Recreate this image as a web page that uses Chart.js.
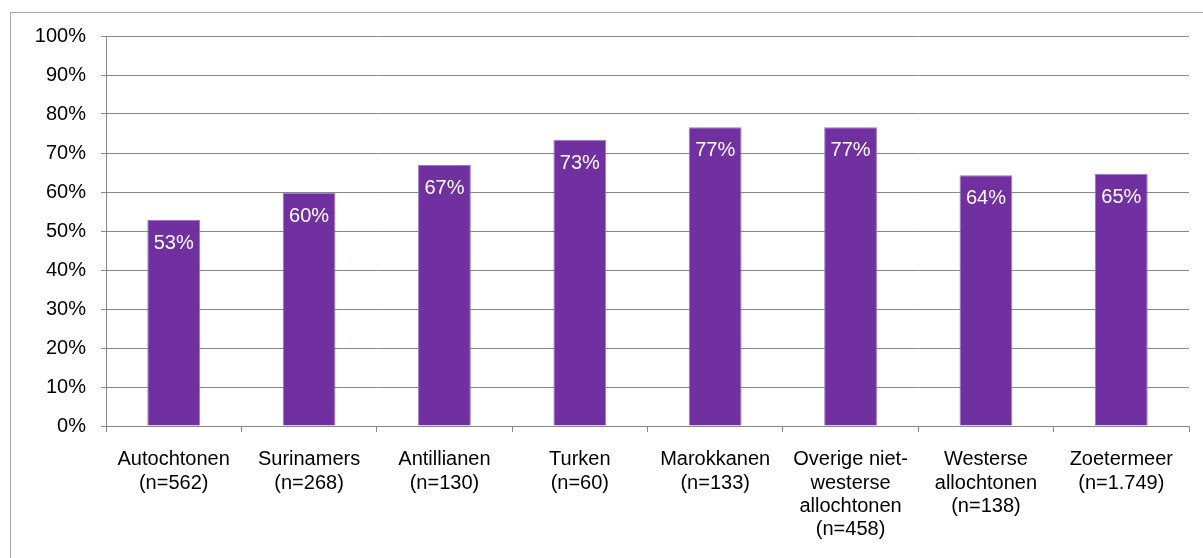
<!DOCTYPE html>
<html>
<head>
<meta charset="utf-8">
<script src="https://cdn.jsdelivr.net/npm/chart.js@4"></script>
<style>
  html, body { margin: 0; padding: 0; background: #fff; overflow: hidden; }
  #wrap { position: relative; width: 1203px; height: 558px; }
  #frame { position: absolute; left: 10px; top: 12px; width: 1300px; height: 700px; border: 1px solid #a6a6a6; box-sizing: border-box; }
  canvas { position: absolute; left: 0; top: 0; }
</style>
</head>
<body>
<div id="wrap">
  <div id="frame"></div>
  <canvas id="myChart" width="1203" height="558"></canvas>
</div>
<script>
var categories = [
  ['Autochtonen', '(n=562)'],
  ['Surinamers', '(n=268)'],
  ['Antillianen', '(n=130)'],
  ['Turken', '(n=60)'],
  ['Marokkanen', '(n=133)'],
  ['Overige niet-', 'westerse', 'allochtonen', '(n=458)'],
  ['Westerse', 'allochtonen', '(n=138)'],
  ['Zoetermeer', '(n=1.749)']
];
var percentages = [52.8, 59.8, 66.9, 73.4, 76.6, 76.6, 64.3, 64.7];
var yTicks = [0, 10, 20, 30, 40, 50, 60, 70, 80, 90, 100];

var gridGray = '#888888';
var font = 'Liberation Sans, Arial, sans-serif';

// white percentage labels inside the top of each bar
var barLabels = {
  id: 'barLabels',
  afterDatasetsDraw: function (chart) {
    var ctx = chart.ctx;
    var meta = chart.getDatasetMeta(0);
    ctx.save();
    ctx.fillStyle = '#ffffff';
    ctx.font = '20px ' + font;
    ctx.textAlign = 'center';
    ctx.textBaseline = 'alphabetic';
    meta.data.forEach(function (bar, i) {
      ctx.fillText(Math.round(percentages[i]) + '%', bar.x, bar.y + 29);
    });
    ctx.restore();
  }
};

document.addEventListener('DOMContentLoaded', function () {
  var ctx = document.getElementById('myChart').getContext('2d');
  var myChart = new Chart(ctx, {
    type: 'bar',
    data: {
      labels: categories,
      datasets: [{
        data: percentages,
        backgroundColor: '#7030a0',
        borderColor: '#9a78c0',
        borderWidth: 1,
        barPercentage: 0.39,
        categoryPercentage: 1
      }]
    },
    options: {
      responsive: false,
      animation: false,
      layout: { padding: { left: 0, top: 36, right: 14, bottom: 0 } },
      plugins: {
        legend: { display: false },
        tooltip: { enabled: false }
      },
      scales: {
        x: {
          grid: {
            offset: true,
            drawOnChartArea: false,
            drawTicks: true,
            tickLength: 6,
            color: gridGray
          },
          border: { color: gridGray, width: 1 },
          ticks: {
            color: '#000',
            font: { family: font, size: 20, lineHeight: 1.17 },
            padding: 16,
            maxRotation: 0,
            autoSkip: false
          },
          afterFit: function (scale) { scale.height = 132; }
        },
        y: {
          min: 0,
          max: 100,
          afterBuildTicks: function (scale) {
            scale.ticks = yTicks.map(function (v) { return { value: v }; });
          },
          grid: {
            color: gridGray,
            tickLength: 5,
            lineWidth: 1
          },
          border: { color: gridGray, width: 1 },
          ticks: {
            color: '#000',
            font: { family: font, size: 20 },
            padding: 15,
            callback: function (v) { return v + '%'; }
          },
          afterFit: function (scale) { scale.width = 106; }
        }
      }
    },
    plugins: [barLabels]
  });
});
</script>
</body>
</html>
